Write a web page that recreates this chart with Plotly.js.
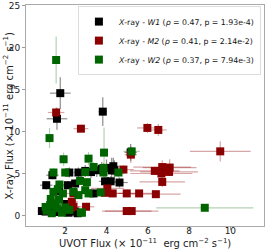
<!DOCTYPE html>
<html><head><meta charset="utf-8">
<script src="https://cdn.plot.ly/plotly-3.0.1.min.js"></script>
<style>html,body{margin:0;padding:0;background:#fff}</style>
</head><body><div id="chart" style="width:266px;height:250px"></div>
<script>
// W1 (black)
const w1x  = [1.76,1.60,3.82,5.17,4.33,4.25,3.77,3.53,2.97,2.64,2.20,1.38,4.38,3.93,4.20,4.63,1.08,2.13,2.48,3.37,0.87,1.05,1.50,2.16,2.48,1.20,1.95,2.60,1.70,2.05,4.00,3.25];
const w1y  = [14.6,11.55,12.4,7.55,5.9,5.4,5.6,5.42,5.34,5.15,5.15,4.83,5.42,4.1,4.1,3.96,3.64,3.64,3.84,2.66,0.56,0.5,0.45,0.36,0.5,0.9,0.6,0.3,2.9,1.4,5.7,5.2];
const w1xe = [0.5,0.5,0.2,0.3,0.3,0.3,0.3,0.3,0.3,0.2,0.2,0.3,0.3,0.3,0.3,0.4,0.3,0.3,0.2,0.3,0.2,0.2,0.2,0.2,0.2,0.2,0.2,0.2,0.2,0.2,0.3,0.3];
const w1ye = [1.9,1.3,1.7,1.0,1.0,1.5,0.8,0.8,0.7,0.6,0.6,0.5,1.2,0.6,0.6,0.6,0.5,0.5,0.5,0.5,0.3,0.3,0.3,0.3,0.3,0.3,0.3,0.3,0.4,0.4,1.0,0.7];
// M2 (dark red)
const m2x  = [1.56,2.76,5.98,6.51,9.51,5.18,4.82,6.34,6.70,7.06,6.66,7.03,6.70,5.58,6.39,4.04,3.93,4.30,4.98,2.40,3.01,2.32,2.40,2.27,4.98,5.22];
const m2y  = [12.3,10.37,10.46,10.22,7.67,7.28,5.5,5.34,5.8,5.74,5.03,5.22,4.03,2.66,2.57,3.25,2.73,2.66,2.66,2.66,1.07,1.66,1.07,0.95,0.56,0.56];
const m2xe = [0.4,0.36,0.5,0.4,1.47,0.3,0.5,1.2,1.4,1.3,1.5,1.4,1.1,1.0,1.2,0.8,0.5,0.5,0.6,0.4,0.4,0.3,0.3,0.3,1.2,1.3];
const m2ye = [0.6,0.3,0.6,0.7,1.2,1.0,0.5,0.4,0.8,1.0,0.5,0.5,0.6,0.3,0.4,0.4,0.3,0.3,0.3,0.3,0.3,0.3,0.3,0.3,0.2,0.2];
// W2 (dark green)
const w2x  = [1.56,1.24,1.92,3.13,3.88,5.22,8.76,3.37,3.85,3.85,4.58,2.97,3.05,3.13,3.72,2.81,1.43,2.00,1.72,1.64,1.43,1.89,2.40,2.64,2.97,2.72,1.27,1.51,1.84,2.76,1.10,1.35,1.60,2.00,1.70,1.30,2.20,1.05];
const w2y  = [18.55,9.25,6.73,6.8,7.52,7.67,0.95,5.81,5.69,5.15,5.15,5.2,4.0,2.66,2.78,0.36,5.15,5.15,3.72,3.17,2.85,2.66,2.85,2.46,3.05,4.15,1.27,1.47,0.36,0.4,0.6,0.3,0.9,1.0,1.9,2.0,0.7,1.05];
const w2xe = [0.15,0.2,0.2,0.2,0.2,0.4,2.35,0.2,0.2,0.2,0.3,0.2,0.2,0.2,0.2,0.2,0.2,0.2,0.2,0.2,0.2,0.2,0.2,0.2,0.2,0.2,0.2,0.2,0.2,0.2,0.2,0.2,0.2,0.2,0.2,0.2,0.2,0.2];
const w2ye = [2.8,1.2,0.8,0.8,3.0,0.5,0.2,0.6,0.6,0.6,0.6,0.5,0.5,0.4,0.4,0.3,0.5,0.5,0.5,0.4,0.4,0.4,0.4,0.4,0.4,0.5,0.3,0.3,0.3,0.3,0.3,0.3,0.3,0.3,0.3,0.3,0.3,0.3];

const names = [
  '<i>X</i>-ray - <i>W1</i> (<i>ρ</i> = 0.47, p = 1.93e-4)',
  '<i>X</i>-ray - <i>M2</i> (<i>ρ</i> = 0.41, p = 2.14e-2)',
  '<i>X</i>-ray - <i>W2</i> (<i>ρ</i> = 0.37, p = 7.94e-3)'
];
const xTitle = 'UVOT Flux (× 10<sup>−11</sup>  erg cm<sup>−2</sup> s<sup>−1</sup>)';
const yTitle = 'X-ray Flux (× 10<sup>−11</sup> erg cm<sup>−2</sup> s<sup>−1</sup>)';
function tr(x,y,xe,ye,name,col,ecol){
  return {x:x,y:y,type:'scatter',mode:'markers',name:name,
    marker:{symbol:'square',size:8,color:col},
    error_x:{type:'data',array:xe,visible:true,color:ecol,thickness:1.2,width:0},
    error_y:{type:'data',array:ye,visible:true,color:ecol,thickness:1.2,width:0}};
}
const data = [
  tr(w1x,w1y,w1xe,w1ye,names[0],'#000000','rgba(0,0,0,0.45)'),
  tr(m2x,m2y,m2xe,m2ye,names[1],'#8b0000','rgba(139,0,0,0.35)'),
  tr(w2x,w2y,w2xe,w2ye,names[2],'#006400','rgba(0,100,0,0.3)')
];
const tfont = {family:'DejaVu Sans',size:10,color:'#222'};
const layout = {
  width:266,height:250,margin:{l:26,r:2,t:5,b:24},
  paper_bgcolor:'#fff',plot_bgcolor:'#fff',font:tfont,showlegend:true,
  xaxis:{range:[0.1,11.63],tickvals:[2,4,6,8,10],ticks:'outside',ticklen:3,tickcolor:'#999',
    showline:true,mirror:true,linecolor:'#aaa',linewidth:1,showgrid:false,zeroline:false,
    tickfont:{family:'DejaVu Sans',size:9,color:'#222'},automargin:false,ticklabelstandoff:-7},
  yaxis:{range:[-1.22,25.1],tickvals:[0,5,10,15,20,25],ticks:'outside',ticklen:3,tickcolor:'#999',
    showline:true,mirror:true,linecolor:'#aaa',linewidth:1,showgrid:false,zeroline:false,
    tickfont:{family:'DejaVu Sans',size:9,color:'#222'},automargin:false},
  annotations:[
    {text:xTitle,xref:'paper',yref:'paper',x:0.5,y:-0.078,xanchor:'center',yanchor:'middle',showarrow:false,font:tfont},
    {text:yTitle,xref:'paper',yref:'paper',x:-0.076,y:0.5,xanchor:'center',yanchor:'middle',textangle:-90,showarrow:false,font:tfont}
  ],
  legend:{x:0.987,y:0.995,xanchor:'right',yanchor:'top',bgcolor:'rgba(255,255,255,0.8)',
    bordercolor:'#ddd',borderwidth:1,font:{family:'DejaVu Sans',size:7.8,color:'#111'},
    tracegroupgap:0,itemwidth:30}
};
Plotly.newPlot('chart',data,layout,{staticPlot:true,displayModeBar:false});
</script></body></html>
